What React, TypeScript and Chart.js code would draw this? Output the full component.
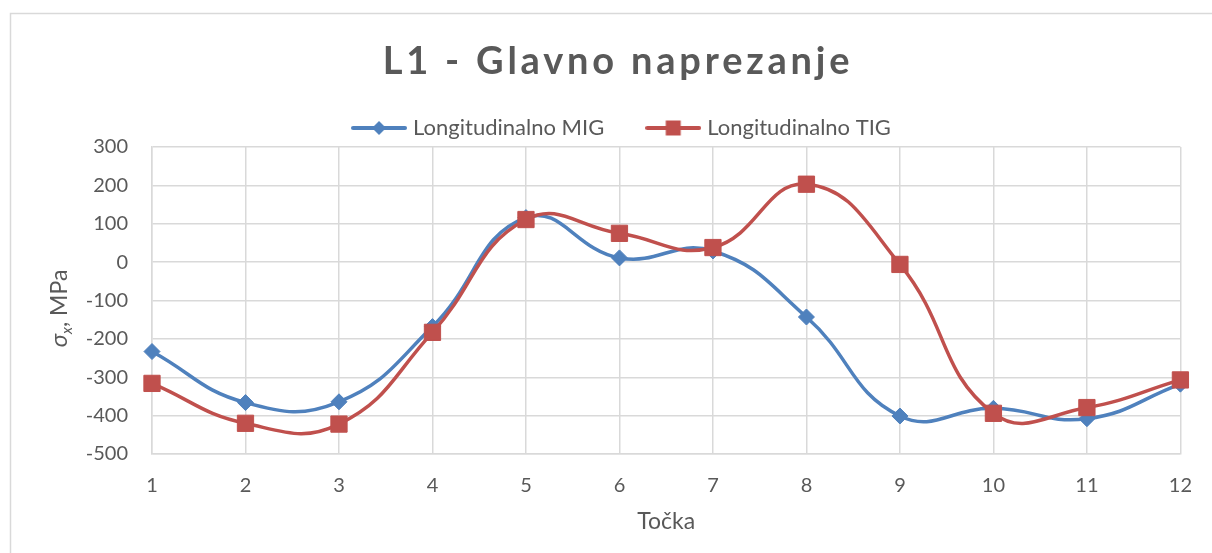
import React, { useEffect, useRef } from 'react';
import { Chart, registerables } from 'chart.js';

Chart.register(...registerables);

const chartTitle = 'L1 - Glavno naprezanje';
const xAxisTitle = 'Točka';
const yAxisSymbol = 'σ';
const yAxisSub = 'x';
const yAxisRest = ', MPa';
const categories = ['1', '2', '3', '4', '5', '6', '7', '8', '9', '10', '11', '12'];
const seriesNames = ['Longitudinalno MIG', 'Longitudinalno TIG'];
const migValues = [-233, -366, -364, -168, 116, 11, 29, -143, -401, -381, -408, -318];
const tigValues = [-316, -420, -422, -183, 111, 75, 38, 203, -6, -394, -379, -307];
const yMin = -500;
const yMax = 300;
const yStep = 100;

const BLUE = '#4f81bd';
const RED = '#c0504d';
const TEXT = '#595959';
const GRID = '#d9d9d9';
const FONT = 'Lato';

function legendIcon(color: string, shape: 'diamond' | 'square') {
  const c = document.createElement('canvas');
  c.width = 56;
  c.height = 18;
  const g = c.getContext('2d')!;
  g.strokeStyle = color;
  g.lineWidth = 4;
  g.lineCap = 'round';
  g.beginPath();
  g.moveTo(2, 9);
  g.lineTo(54, 9);
  g.stroke();
  g.fillStyle = color;
  g.beginPath();
  if (shape === 'diamond') {
    g.moveTo(28, 2);
    g.lineTo(35, 9);
    g.lineTo(28, 16);
    g.lineTo(21, 9);
    g.closePath();
  } else {
    g.rect(20.5, 1.5, 15, 15);
  }
  g.fill();
  return c;
}

const framePlugin = {
  id: 'frame',
  beforeDraw(chart: any) {
    const ctx = chart.ctx;
    ctx.save();
    ctx.fillStyle = '#ffffff';
    ctx.fillRect(0, 0, chart.width, chart.height);
    ctx.strokeStyle = GRID;
    ctx.lineWidth = 1.5;
    ctx.strokeRect(10.5, 13.5, chart.width + 20, chart.height + 20);
    ctx.restore();
  },
};

const LEGEND_SHIFT = 32;

const legendFitPlugin = {
  id: 'legendFit',
  beforeLayout(chart: any) {
    const lg = chart.legend;
    if (lg && !lg._patched) {
      const origFit = lg.fit;
      lg.fit = function () {
        origFit.call(this);
        this.height = 76;
      };
      const origDraw = lg.draw;
      lg.draw = function () {
        const c = this.ctx;
        c.save();
        c.translate(LEGEND_SHIFT, 0);
        origDraw.call(this);
        c.restore();
      };
      lg._patched = true;
    }
  },
};

const textPlugin = {
  id: 'texts',
  afterDraw(chart: any) {
    const ctx = chart.ctx as CanvasRenderingContext2D;
    ctx.save();
    // main title
    ctx.fillStyle = TEXT;
    ctx.font = `bold 38px ${FONT}`;
    (ctx as any).letterSpacing = '3.8px';
    ctx.textAlign = 'center';
    ctx.textBaseline = 'alphabetic';
    ctx.fillText(chartTitle, 618, 74);
    (ctx as any).letterSpacing = '0px';
    // y axis title
    const area = chart.chartArea;
    const cy = (area.top + area.bottom) / 2 + 8;
    ctx.translate(59, cy);
    ctx.rotate(-Math.PI / 2);
    const f1 = `italic 24px ${FONT}`;
    const f2 = `italic 15px ${FONT}`;
    const f3 = `23px ${FONT}`;
    ctx.font = f1;
    const w1 = ctx.measureText(yAxisSymbol).width;
    ctx.font = f2;
    const w2 = ctx.measureText(yAxisSub).width;
    ctx.font = f3;
    const w3 = ctx.measureText(yAxisRest).width;
    const total = w1 + w2 + w3;
    let x = -total / 2;
    ctx.textAlign = 'left';
    ctx.textBaseline = 'alphabetic';
    const base = 8;
    ctx.font = f1;
    ctx.fillText(yAxisSymbol, x, base);
    x += w1;
    ctx.font = f2;
    ctx.fillText(yAxisSub, x, base + 5);
    x += w2;
    ctx.font = f3;
    ctx.fillText(yAxisRest, x, base);
    ctx.restore();
  },
};

export default function App() {
  const ref = useRef<HTMLCanvasElement | null>(null);
  useEffect(() => {
    if (!ref.current) return;
    const icons = [legendIcon(BLUE, 'diamond'), legendIcon(RED, 'square')];
    const chart = new Chart(ref.current, {
      type: 'line',
      data: {
        labels: categories,
        datasets: [
          {
            label: seriesNames[0],
            data: migValues,
            borderColor: BLUE,
            backgroundColor: BLUE,
            borderWidth: 3.5,
            pointStyle: 'rectRot',
            pointRadius: 8,
            pointBorderWidth: 1,
            pointBackgroundColor: BLUE,
            pointBorderColor: BLUE,
            tension: 0.45,
            order: 1,
          },
          {
            label: seriesNames[1],
            data: tigValues,
            borderColor: RED,
            backgroundColor: RED,
            borderWidth: 3.5,
            pointStyle: 'rect',
            pointRadius: 11.5,
            pointBorderWidth: 1,
            pointBackgroundColor: RED,
            pointBorderColor: RED,
            tension: 0.45,
            order: 0,
          },
        ],
      },
      options: {
        responsive: true,
        maintainAspectRatio: false,
        animation: false,
        layout: { padding: { top: 71, right: 29, bottom: 0, left: 0 } },
        plugins: {
          title: { display: false },
          tooltip: { enabled: false },
          legend: {
            display: true,
            position: 'top',
            labels: {
              usePointStyle: true,
              pointStyleWidth: 46,
              padding: 46,
              color: TEXT,
              font: { family: FONT, size: 22 },
              sort: (a: any, b: any) => a.datasetIndex - b.datasetIndex,
              generateLabels: (c: any) => {
                const items = (Chart as any).defaults.plugins.legend.labels.generateLabels(c);
                return items.map((it: any) => ({ ...it, pointStyle: icons[it.datasetIndex] }));
              },
            },
          },
        },
        scales: {
          x: {
            type: 'category',
            offset: false,
            afterFit: (s: any) => {
              s.height = 99;
            },
            grid: { color: GRID, lineWidth: 1.5, drawTicks: false },
            border: { color: GRID, width: 1.5 },
            ticks: { color: TEXT, font: { family: FONT, size: 20 }, padding: 20, maxRotation: 0 },
            title: {
              display: true,
              text: xAxisTitle,
              color: TEXT,
              font: { family: FONT, size: 23 },
              padding: { top: 0, bottom: 18 },
            },
          },
          y: {
            min: yMin,
            max: yMax,
            afterFit: (s: any) => {
              s.width = 152;
            },
            grid: { color: GRID, lineWidth: 1.5, drawTicks: false },
            border: { color: GRID, width: 1.5 },
            ticks: { stepSize: yStep, color: TEXT, font: { family: FONT, size: 20 }, padding: 24 },
            title: { display: false },
          },
        },
      },
      plugins: [framePlugin, legendFitPlugin, textPlugin],
    } as any);
    return () => chart.destroy();
  }, []);
  return (
    <div style={{ position: 'fixed', left: 0, top: 0, width: 1212, height: 553, background: '#fff' }}>
      <canvas ref={ref} />
    </div>
  );
}
